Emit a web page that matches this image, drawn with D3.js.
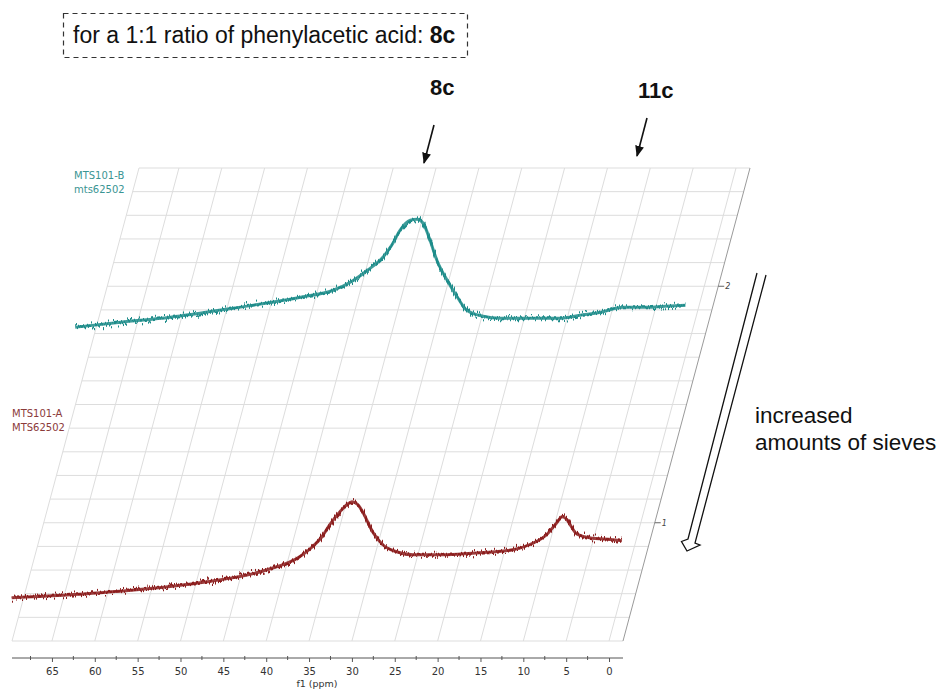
<!DOCTYPE html>
<html>
<head>
<meta charset="utf-8">
<script src="https://cdn.jsdelivr.net/npm/d3@7"></script>
<style>
  html, body { margin: 0; padding: 0; background: #ffffff; }
  svg { display: block; }
</style>
</head>
<body>
<script>
// ---------------- DATA ----------------
const axisTicks = [65, 60, 55, 50, 45, 40, 35, 30, 25, 20, 15, 10, 5, 0];
const minorTicks = [67.5, 62.5, 57.5, 52.5, 47.5, 42.5, 37.5, 32.5, 27.5, 22.5, 17.5, 12.5, 7.5, 2.5];
const axisTitle = "f1 (ppm)";
const depthTicks = [1, 2];

// Trace A (front, MTS101-A): chemical shift (ppm) and intensity (a.u.)
const traceA_ppm = [73.4, 63.1, 51.5, 43.6, 39.8, 38.3, 37.2, 36.3, 35.1, 34.3, 33.7, 33.0, 32.4, 31.3, 30.1, 28.5, 26.6, 22.6, 18.8, 14.9, 13.0, 11.0, 9.8, 9.2, 8.6, 8.1, 7.5, 6.0, 3.3, 2.2];
const traceA_int = [-0.75, -0.70, -0.60, -0.47, -0.34, -0.24, -0.14, -0.02, 0.11, 0.18, 0.21, 0.18, 0.10, -0.09, -0.22, -0.29, -0.32, -0.32, -0.30, -0.27, -0.22, -0.12, 0.00, 0.06, 0.03, -0.04, -0.11, -0.15, -0.17, -0.18];

// Trace B (back, MTS101-B)
const traceB_ppm = [73.4, 68.1, 62.3, 55.0, 47.1, 43.3, 41.1, 39.3, 37.5, 36.4, 35.5, 34.3, 33.5, 32.8, 32.0, 31.2, 30.0, 28.8, 27.7, 25.8, 23.8, 20.0, 16.8, 14.5, 12.1, 9.5, 6.7, 4.6, 2.2];
const traceB_int = [-0.41, -0.36, -0.31, -0.22, -0.11, -0.04, 0.05, 0.16, 0.29, 0.42, 0.56, 0.66, 0.67, 0.63, 0.46, 0.26, 0.06, -0.11, -0.24, -0.30, -0.32, -0.32, -0.32, -0.29, -0.26, -0.21, -0.21, -0.20, -0.19];

const seriesNames = [["MTS101-A", "MTS62502"], ["MTS101-B", "mts62502"]];
const seriesDepth = [1, 2];
const seriesColors = ["#8b1c1c", "#1f8c8a"];
const labelColors = ["#8b3a3a", "#3a9593"];

const titleText = "for a 1:1 ratio of phenylacetic acid: ";
const titleBold = "8c";
const peakLabels = ["8c", "11c"];
const sideText = ["increased", "amounts of sieves"];

// ---------------- LAYOUT ----------------
const W = 946, H = 690;
const svg = d3.select("body").append("svg").attr("width", W).attr("height", H);

const front = 641, back = 168;          // y of grid front/back edges
const skew = 127 / 473;                  // horizontal shift per vertical px of depth
const x = d3.scaleLinear().domain([69.66, -1.63]).range([12, 623]);
const depthY = d3.scaleLinear().domain([0.5, 2.5]).range([front, back]);
const yInt = d3.scaleLinear().domain([0, 1]).range([0, 100]);

function proj(ppm, depth, inten) {
  const yd = depthY(depth);
  return [x(ppm) + (front - yd) * skew, yd - yInt(inten)];
}

// ---------------- GRID ----------------
const grid = svg.append("g").attr("class", "grid");
const depthLevels = d3.range(0, 21).map(i => 0.5 + i * 0.1);
const ppmLeft = x.domain()[0], ppmRight = x.domain()[1];
depthLevels.forEach(d => {
  const a = proj(ppmLeft, d, 0), b = proj(ppmRight, d, 0);
  grid.append("line").attr("x1", a[0]).attr("y1", a[1]).attr("x2", b[0]).attr("y2", b[1])
    .attr("stroke", "#dddddd").attr("stroke-width", 1);
});
[ppmLeft].concat(axisTicks).forEach(p => {
  const a = proj(p, 0.5, 0), b = proj(p, 2.5, 0);
  grid.append("line").attr("x1", a[0]).attr("y1", a[1]).attr("x2", b[0]).attr("y2", b[1])
    .attr("stroke", "#dddddd").attr("stroke-width", 1);
});
{
  const a = proj(ppmRight, 0.5, 0), b = proj(ppmRight, 2.5, 0);
  grid.append("line").attr("x1", a[0]).attr("y1", a[1]).attr("x2", b[0]).attr("y2", b[1])
    .attr("stroke", "#9a9a9a").attr("stroke-width", 1);
}
depthTicks.forEach(d => {
  const p = proj(ppmRight, d, 0);
  grid.append("line").attr("x1", p[0]).attr("y1", p[1]).attr("x2", p[0] + 6).attr("y2", p[1])
    .attr("stroke", "#666").attr("stroke-width", 1);
  grid.append("text").attr("x", p[0] + 7).attr("y", p[1] + 3)
    .attr("font-family", "DejaVu Sans, sans-serif").attr("font-size", 8)
    .attr("font-style", "italic").attr("fill", "#444").text(d);
});

// ---------------- BOTTOM AXIS ----------------
const axisY = 658;
const axisG = svg.append("g").attr("transform", `translate(0,${axisY})`)
  .call(d3.axisBottom(x).tickValues(axisTicks).tickSize(4).tickPadding(6).tickFormat(d3.format("d")));
axisG.select(".domain").attr("stroke", "#555").attr("d", `M${x.range()[0]},0H${x.range()[1]}`);
axisG.selectAll(".tick line").attr("stroke", "#555");
axisG.selectAll(".tick text").attr("font-family", "DejaVu Sans, sans-serif").attr("font-size", 10).attr("fill", "#333");
svg.append("g").selectAll("line").data(minorTicks).join("line")
  .attr("x1", d => x(d)).attr("x2", d => x(d)).attr("y1", axisY - 2).attr("y2", axisY + 2)
  .attr("stroke", "#555");
svg.append("text").attr("x", 317).attr("y", 687).attr("text-anchor", "middle")
  .attr("font-family", "DejaVu Sans, sans-serif").attr("font-size", 9.5).attr("fill", "#333").text(axisTitle);

// ---------------- TRACES ----------------
const defs = svg.append("defs");
// rendering texture: vertical jitter that mimics the spectrum's noise band
const f = defs.append("filter").attr("id", "jit").attr("x", "-5%").attr("y", "-40%").attr("width", "110%").attr("height", "180%");
f.append("feTurbulence").attr("type", "fractalNoise").attr("baseFrequency", "0.9 0.02").attr("numOctaves", 2).attr("seed", 7).attr("result", "t");
f.append("feColorMatrix").attr("in", "t").attr("type", "matrix")
  .attr("values", "0 0 0 0 0.5  0 1 0 0 0  0 0 1 0 0  0 0 0 0 1").attr("result", "t2");
f.append("feDisplacementMap").attr("in", "SourceGraphic").attr("in2", "t2").attr("scale", 14)
  .attr("xChannelSelector", "R").attr("yChannelSelector", "G");

const line = d3.line().curve(d3.curveMonotoneX);
const traces = [[traceA_ppm, traceA_int], [traceB_ppm, traceB_int]];
traces.forEach((t, i) => {
  const pts = t[0].map((p, j) => proj(p, seriesDepth[i], t[1][j]));
  const g = svg.append("g");
  g.append("path").attr("d", line(pts)).attr("fill", "none")
    .attr("stroke", seriesColors[i]).attr("stroke-width", 3).attr("stroke-opacity", 0.85);
  g.append("path").attr("d", line(pts)).attr("fill", "none")
    .attr("stroke", seriesColors[i]).attr("stroke-width", 2.2).attr("filter", "url(#jit)");
});

// series labels
const labelPos = [[12, 417], [74, 179]];
seriesNames.forEach((names, i) => {
  names.forEach((n, k) => {
    svg.append("text").attr("x", labelPos[i][0]).attr("y", labelPos[i][1] + k * 14)
      .attr("font-family", "DejaVu Sans, sans-serif").attr("font-size", 10)
      .attr("fill", labelColors[i]).text(n);
  });
});

// ---------------- ANNOTATIONS ----------------
const ann = svg.append("g").attr("font-family", "Liberation Sans, Arial, sans-serif");
ann.append("rect").attr("x", 63.5).attr("y", 13.5).attr("width", 404).attr("height", 44)
  .attr("fill", "none").attr("stroke", "#333").attr("stroke-width", 1.2).attr("stroke-dasharray", "5,4");
const tt = ann.append("text").attr("x", 73).attr("y", 43).attr("font-size", 23).attr("fill", "#111");
tt.append("tspan").text(titleText);
tt.append("tspan").attr("font-weight", "bold").text(titleBold);

ann.append("text").attr("x", 430).attr("y", 95).attr("font-size", 22).attr("font-weight", "bold").attr("fill", "#111").text(peakLabels[0]);
ann.append("text").attr("x", 638).attr("y", 98).attr("font-size", 22).attr("font-weight", "bold").attr("fill", "#111").text(peakLabels[1]);

defs.append("marker").attr("id", "ah").attr("viewBox", "0 0 10 10").attr("refX", 9).attr("refY", 5)
  .attr("markerWidth", 7).attr("markerHeight", 7).attr("orient", "auto")
  .append("path").attr("d", "M0,1 L10,5 L0,9 Z").attr("fill", "#111");
ann.append("line").attr("x1", 434).attr("y1", 125).attr("x2", 424).attr("y2", 163)
  .attr("stroke", "#111").attr("stroke-width", 1.6).attr("marker-end", "url(#ah)");
ann.append("line").attr("x1", 647).attr("y1", 118).attr("x2", 637).attr("y2", 156)
  .attr("stroke", "#111").attr("stroke-width", 1.6).attr("marker-end", "url(#ah)");

ann.append("path")
  .attr("d", "M757,273 L688,539 L681.5,541.5 L687,551 L700,545 L695,543 L766,275")
  .attr("fill", "none").attr("stroke", "#111").attr("stroke-width", 1.3).attr("stroke-linejoin", "miter");

ann.append("text").attr("x", 755).attr("y", 423).attr("font-size", 22.5).attr("fill", "#111").text(sideText[0]);
ann.append("text").attr("x", 755).attr("y", 450).attr("font-size", 22.5).attr("fill", "#111").text(sideText[1]);
</script>
</body>
</html>
